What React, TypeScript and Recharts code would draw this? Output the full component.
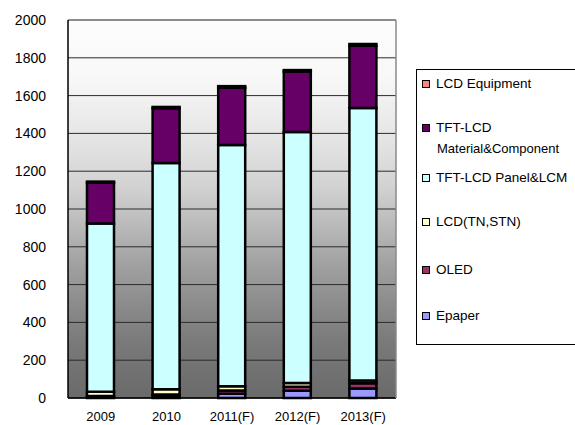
import React from "react";
import { BarChart, Bar, XAxis, YAxis, CartesianGrid, ReferenceLine } from "recharts";

const years = ["2009", "2010", "2011(F)", "2012(F)", "2013(F)"];
const epaper = [5, 8, 22, 38, 50];
const oled = [6, 10, 18, 22, 28];
const lcdTnStn = [22, 28, 22, 20, 15];
const panelLcm = [890, 1197, 1277, 1327, 1441];
const material = [216, 290, 303, 320, 330];
const equipment = [6, 7, 8, 8, 9];
const yTicks = [0, 200, 400, 600, 800, 1000, 1200, 1400, 1600, 1800, 2000];

const series = [
  { key: "epaper", name: "Epaper", color: "#9999FF" },
  { key: "oled", name: "OLED", color: "#993366" },
  { key: "lcd", name: "LCD(TN,STN)", color: "#FFFFCC" },
  { key: "panel", name: "TFT-LCD Panel&LCM", color: "#CCFFFF" },
  { key: "material", name: "TFT-LCD Material&Component", color: "#660066" },
  { key: "equipment", name: "LCD Equipment", color: "#FF8080" },
];

const data = years.map((year, i) => ({
  year,
  epaper: epaper[i],
  oled: oled[i],
  lcd: lcdTnStn[i],
  panel: panelLcm[i],
  material: material[i],
  equipment: equipment[i],
}));

// legend rows, top to bottom, with their text centre
const legendRows = [
  { name: "LCD Equipment", color: "#FF8080", y: 84 },
  { name: "TFT-LCD", sub: "Material&Component", color: "#660066", y: 128 },
  { name: "TFT-LCD Panel&LCM", color: "#CCFFFF", y: 178 },
  { name: "LCD(TN,STN)", color: "#FFFFCC", y: 222 },
  { name: "OLED", color: "#993366", y: 270 },
  { name: "Epaper", color: "#9999FF", y: 316 },
];

const font = "'Liberation Sans', Arial, sans-serif";

export default function App() {
  return (
    <div
      style={{
        position: "absolute",
        left: 0,
        top: 0,
        width: 575,
        height: 425,
        overflow: "hidden",
        background: "#fff",
        fontFamily: font,
      }}
    >
      <BarChart
        width={575}
        height={425}
        data={data}
        margin={{ top: 20, right: 178, left: 0, bottom: 0 }}
      >
        <defs>
          <linearGradient id="plotBg" x1="0" y1="0" x2="0" y2="1">
            <stop offset="0" stopColor="#fdfdfd" />
            <stop offset="0.15" stopColor="#f8f8f8" />
            <stop offset="0.25" stopColor="#ececec" />
            <stop offset="0.35" stopColor="#e0e0e0" />
            <stop offset="0.45" stopColor="#d0d0d0" />
            <stop offset="0.55" stopColor="#b8b8b8" />
            <stop offset="0.65" stopColor="#a0a0a0" />
            <stop offset="0.75" stopColor="#8c8c8c" />
            <stop offset="0.85" stopColor="#7a7a7a" />
            <stop offset="1" stopColor="#6a6a6a" />
          </linearGradient>
        </defs>
        <CartesianGrid
          vertical={false}
          stroke="#2a2a2a"
          fill="url(#plotBg)"
          fillOpacity={1}
        />
        <XAxis
          dataKey="year"
          height={27}
          tickLine={false}
          tickSize={0}
          tickMargin={14}
          axisLine={{ stroke: "#000", strokeWidth: 1.5 }}
          tick={{ fill: "#000", fontSize: 13, fontFamily: font }}
        />
        <YAxis
          domain={[0, 2000]}
          ticks={yTicks}
          width={68}
          tickLine={false}
          tickSize={0}
          tickMargin={22}
          interval={0}
          axisLine={{ stroke: "#000", strokeWidth: 1.5 }}
          tick={{ fill: "#000", fontSize: 14, fontFamily: font }}
        />
        <YAxis
          yAxisId="right"
          orientation="right"
          width={1}
          tick={false}
          tickLine={false}
          axisLine={{ stroke: "#8a8a8a", strokeWidth: 1.5 }}
        />
        <ReferenceLine y={2000} stroke="#8a8a8a" strokeWidth={1.5} />
        {series.map((s) => (
          <Bar
            key={s.key}
            dataKey={s.key}
            name={s.name}
            stackId="a"
            fill={s.color}
            stroke="#000"
            strokeWidth={2.5}
            barSize={27}
            isAnimationActive={false}
          />
        ))}
      </BarChart>
      <div
        style={{
          position: "absolute",
          left: 416,
          top: 69,
          width: 180,
          height: 276,
          border: "1px solid #000",
          background: "#fff",
          boxSizing: "border-box",
        }}
      />
      {legendRows.map((r) => (
        <React.Fragment key={r.name + r.y}>
          <div
            style={{
              position: "absolute",
              left: 422,
              top: r.y - 4,
              width: 8,
              height: 8,
              border: "1.5px solid #000",
              background: r.color,
              boxSizing: "border-box",
            }}
          />
          <div
            style={{
              position: "absolute",
              left: 436,
              top: r.y - 9,
              fontSize: 13.5,
              lineHeight: "18px",
              color: "#000",
              whiteSpace: "nowrap",
            }}
          >
            {r.name}
          </div>
          {r.sub && (
            <div
              style={{
                position: "absolute",
                left: 437,
                top: r.y + 12,
                fontSize: 13,
                lineHeight: "18px",
                color: "#000",
                whiteSpace: "nowrap",
              }}
            >
              {r.sub}
            </div>
          )}
        </React.Fragment>
      ))}
    </div>
  );
}
